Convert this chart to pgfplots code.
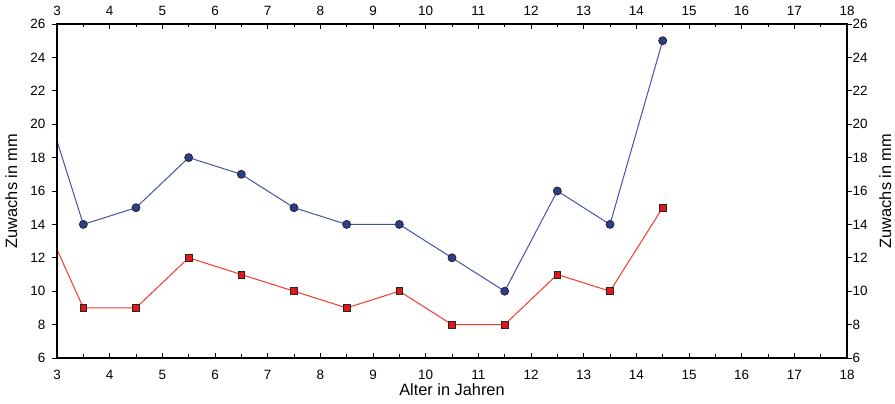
\documentclass[border=0pt]{standalone}
\usepackage{fontspec}
\setmainfont{Liberation Sans}
\usepackage{pgfplots}
\pgfplotsset{compat=1.18}
\definecolor{bline}{HTML}{4452A8}
\definecolor{bfill}{HTML}{2E3C8C}
\definecolor{rline}{HTML}{F03A2A}
\definecolor{rfill}{HTML}{E01818}
\pgfplotsset{
  common/.style={
    scale only axis, width=790bp, height=334bp,
    xmin=3, xmax=18, ymin=6, ymax=26,
    xtick={3,...,18}, ytick={6,8,...,26},
    minor x tick num=1,
    xtick align=inside, ytick align=outside,
    major tick length=5bp, minor tick length=3.5bp,
    tick style={black, line width=0.9bp},
    axis line style={black, line width=1.4bp},
    /pgf/number format/assume math mode=true,
    tick label style={font=\fontsize{13.5}{15}\selectfont, inner sep=1.5bp},
    label style={font=\fontsize{16.4}{18}\selectfont},
  }
}
\begin{document}
\begin{tikzpicture}
\begin{axis}[common, name=main,
  xticklabel pos=lower, yticklabel pos=left,
  xticklabel style={yshift=-10.5bp},
  yticklabel style={xshift=-5bp},
  xlabel={Alter in Jahren}, ylabel={Zuwachs in mm},
  xlabel style={yshift=1bp}, ylabel style={yshift=8bp},
  clip=true]
\addplot[bline, line width=1bp] coordinates {(2.5,24) (3.5,14) (4.5,15) (5.5,18) (6.5,17) (7.5,15) (8.5,14) (9.5,14) (10.5,12) (11.5,10) (12.5,16) (13.5,14) (14.5,25)};
\addplot[rline, line width=1bp] coordinates {(2.5,16) (3.5,9) (4.5,9) (5.5,12) (6.5,11) (7.5,10) (8.5,9) (9.5,10) (10.5,8) (11.5,8) (12.5,11) (13.5,10) (14.5,15)};
\addplot[only marks, mark=*, mark size=4bp, mark options={fill=bfill, draw=black!85, line width=0.8bp}] coordinates {(3.5,14) (4.5,15) (5.5,18) (6.5,17) (7.5,15) (8.5,14) (9.5,14) (10.5,12) (11.5,10) (12.5,16) (13.5,14) (14.5,25)};
\addplot[only marks, mark=square*, mark size=3.4bp, mark options={fill=rfill, draw=black!85, line width=0.8bp}] coordinates {(3.5,9) (4.5,9) (5.5,12) (6.5,11) (7.5,10) (8.5,9) (9.5,10) (10.5,8) (11.5,8) (12.5,11) (13.5,10) (14.5,15)};
\end{axis}
\begin{axis}[common,
  xticklabel pos=upper, yticklabel pos=right,
  xticklabel style={yshift=6.5bp},
  yticklabel style={xshift=-1bp},
  ylabel={Zuwachs in mm}, ylabel style={yshift=-6.6bp}]
\end{axis}
\pgfresetboundingbox
\useasboundingbox ([shift={(-57bp,-46bp)}]main.south west) rectangle ([shift={(48bp,24bp)}]main.north east);
\end{tikzpicture}
\end{document}
